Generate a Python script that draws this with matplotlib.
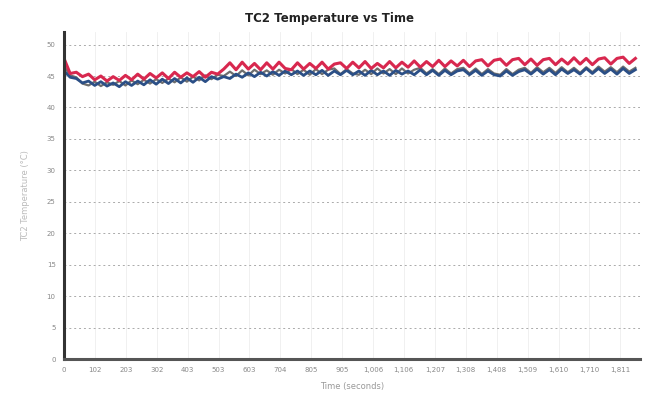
import matplotlib.pyplot as plt
from matplotlib.ticker import FuncFormatter

# time axis, one reading every 20 s
time_s = list(range(0, 1880, 20))

tc2_red = [
    47.8, 45.4, 45.6, 44.9, 45.3, 44.4, 45.0, 44.2, 44.9, 44.3,
    45.1, 44.4, 45.3, 44.5, 45.4, 44.7, 45.5, 44.6, 45.6, 44.8,
    45.5, 44.9, 45.7, 44.8, 45.6, 45.3, 46.1, 47.1, 46.0, 47.2,
    46.1, 47.0, 46.0, 47.1, 46.1, 47.2, 46.2, 46.0, 47.1, 46.1,
    47.0, 46.2, 47.2, 46.1, 46.9, 47.1, 46.2, 47.2, 46.3, 47.3,
    46.2, 47.0, 46.3, 47.3, 46.3, 47.2, 46.4, 47.4, 46.4, 47.3,
    46.5, 47.5, 46.5, 47.4, 46.6, 47.5, 46.5, 47.4, 47.6, 46.6,
    47.5, 47.7, 46.7, 47.6, 47.8, 46.8, 47.7, 46.7, 47.6, 47.8,
    46.8, 47.7, 46.9, 47.9, 46.9, 47.8, 46.8, 47.7, 47.9, 46.9,
    47.8, 48.0, 47.0, 47.8,
]

tc2_blue = [
    45.8, 44.8, 44.6, 43.9, 44.2, 43.5, 44.1, 43.4, 43.9, 43.3,
    44.1, 43.5, 44.2, 43.6, 44.4, 43.7, 44.5, 43.8, 44.6, 43.9,
    44.7, 44.0, 44.8, 44.1, 44.9, 44.5, 44.9, 44.6, 45.3, 44.8,
    45.5, 44.9, 45.6, 45.0, 45.7, 45.1, 45.8, 45.2, 45.8, 45.1,
    45.8, 45.2, 45.9, 45.1, 45.8, 45.2, 45.9, 45.2, 45.8, 45.1,
    45.9, 45.2, 45.8, 45.1, 45.9, 45.3, 45.8, 45.2, 46.0, 45.2,
    45.9, 45.1, 45.9, 45.2, 45.8, 46.0, 45.2, 45.9, 45.1, 45.8,
    45.2, 45.0, 45.8, 45.1, 45.7, 46.0, 45.3, 46.1, 45.3, 46.0,
    45.2, 46.1, 45.4, 46.0, 45.3, 46.2, 45.4, 46.2, 45.4, 46.1,
    45.3, 46.2, 45.4, 46.0,
]

tc2_gray = [
    46.6, 45.1, 44.8, 43.8, 43.5, 44.1, 43.4, 44.0, 43.6, 44.2,
    43.5, 44.3, 43.7, 44.4, 43.8, 44.5, 43.9, 44.6, 44.0, 44.8,
    44.1, 44.9, 44.3, 45.1, 44.5, 45.2, 45.0, 45.7, 45.0, 45.9,
    45.1, 46.0, 45.3, 45.9, 45.2, 46.0, 45.4, 46.1, 45.3, 46.0,
    45.2, 46.1, 45.3, 46.0, 46.2, 45.3, 46.1, 45.4, 45.2, 46.0,
    45.3, 46.2, 45.4, 46.1, 45.3, 46.2, 45.4, 46.0, 46.3, 45.4,
    46.1, 45.3, 46.2, 45.4, 46.1, 46.3, 45.4, 46.2, 45.3, 46.1,
    45.4, 45.2, 46.1, 45.3, 46.0, 46.3, 45.5, 46.4, 45.6, 46.3,
    45.5, 46.4, 45.6, 46.3, 45.5, 46.4, 45.6, 46.5, 45.7, 46.4,
    45.6, 46.5, 45.7, 46.3,
]

y_ticks = [0, 5, 10, 15, 20, 25, 30, 35, 40, 45, 50]
x_ticks = [0, 102, 203, 302, 403, 503, 603, 704, 805, 905, 1006,
           1106, 1207, 1308, 1408, 1509, 1610, 1710, 1811]

fig = plt.figure(figsize=(6.53, 4.01), dpi=100)
ax = fig.add_axes([64 / 653, 42 / 401, 576 / 653, 327 / 401])

ax.plot(time_s, tc2_gray, color="#6e6e6e", lw=1.6)
ax.plot(time_s, tc2_blue, color="#2b4f86", lw=2.0)
ax.plot(time_s, tc2_red, color="#d8284f", lw=2.2)

ax.set_xlim(0, 1875)
ax.set_ylim(0, 52)
ax.set_xticks(x_ticks)
ax.set_yticks(y_ticks)
ax.xaxis.set_major_formatter(FuncFormatter(lambda v, p: f"{int(v):,}"))
ax.tick_params(labelsize=5, colors="#888888", length=0, pad=6)

ax.grid(axis="y", color="#aaaaaa", linestyle=(0, (2, 3)), linewidth=0.7)
ax.grid(axis="x", color="#eeeeee", linestyle="-", linewidth=0.6)
ax.set_axisbelow(True)

for side in ("top", "right"):
    ax.spines[side].set_visible(False)
ax.spines["left"].set_linewidth(2.2)
ax.spines["left"].set_color("#333333")
ax.spines["bottom"].set_linewidth(2.2)
ax.spines["bottom"].set_color("#555555")

ax.set_xlabel("Time (seconds)", fontsize=6, color="#999999", labelpad=6)
ax.set_ylabel("TC2 Temperature (°C)", fontsize=6, color="#bbbbbb", labelpad=12)
fig.text(0.505, 0.955, "TC2 Temperature vs Time", ha="center", va="center",
         fontsize=8.5, fontweight="bold", color="#222222")

fig.savefig("out.png", dpi=100)
